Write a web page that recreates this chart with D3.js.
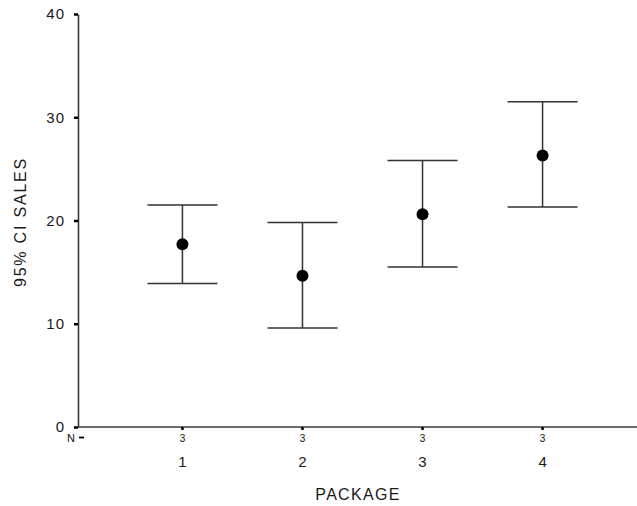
<!DOCTYPE html>
<html>
<head>
<meta charset="utf-8">
<script src="https://cdn.jsdelivr.net/npm/d3@7"></script>
<style>
  body { margin: 0; background: #fff; }
  text { font-family: "Liberation Sans", Arial, sans-serif; fill: #1a1a1a; }
</style>
</head>
<body>
<div id="chart"></div>
<script>
let width = 637;
let height = 506;

// data
let packages = ["1", "2", "3", "4"];
let counts = [3, 3, 3, 3];
let means = [17.7, 14.65, 20.6, 26.3];
let lower = [13.9, 9.6, 15.5, 21.3];
let upper = [21.5, 19.8, 25.8, 31.5];
let yTicks = [0, 10, 20, 30, 40];

let plotLeft = 78, plotTop = 14, plotBottom = 427;

let svg = d3.select("#chart").append("svg")
  .attr("width", width)
  .attr("height", height);

let y = d3.scaleLinear().domain([0, 40]).range([plotBottom, plotTop]);
let x = d3.scalePoint().domain(packages).range([plotLeft, 647]).padding(0.87);

let axisColor = "#3a3a3a";

// y axis
let yAxis = svg.append("g")
  .attr("transform", "translate(" + plotLeft + ",0)")
  .call(d3.axisLeft(y).tickValues(yTicks).tickSize(4).tickPadding(9).tickSizeOuter(0));
yAxis.select(".domain").attr("stroke", axisColor).attr("stroke-width", 1.6);
yAxis.selectAll(".tick line").attr("stroke", "#000").attr("stroke-width", 2.5);
yAxis.selectAll(".tick text")
  .style("font-size", "15px")
  .style("letter-spacing", "1px")
  .style("fill", "#1a1a1a");

// x axis line
svg.append("line")
  .attr("x1", plotLeft).attr("x2", width)
  .attr("y1", plotBottom).attr("y2", plotBottom)
  .attr("stroke", axisColor).attr("stroke-width", 1.6);

// x ticks
svg.selectAll(".xtick")
  .data(packages)
  .enter().append("line")
  .attr("class", "xtick")
  .attr("x1", function(d){ return x(d); })
  .attr("x2", function(d){ return x(d); })
  .attr("y1", plotBottom).attr("y2", plotBottom + 3)
  .attr("stroke", "#000").attr("stroke-width", 2.5);

// N= row
svg.append("text")
  .attr("x", 71).attr("y", 438)
  .attr("text-anchor", "middle")
  .attr("dominant-baseline", "central")
  .style("font-size", "11px")
  .style("fill", "#111")
  .text("N");
svg.append("line")
  .attr("x1", 79).attr("x2", 84)
  .attr("y1", 437.5).attr("y2", 437.5)
  .attr("stroke", "#000").attr("stroke-width", 1.8);

svg.selectAll(".nlab")
  .data(counts)
  .enter().append("text")
  .attr("class", "nlab")
  .attr("x", function(d, i){ return x(packages[i]); })
  .attr("y", 438)
  .attr("text-anchor", "middle")
  .attr("dominant-baseline", "central")
  .style("font-size", "10px")
  .style("fill", "#111")
  .text(function(d){ return d; });

svg.selectAll(".catlab")
  .data(packages)
  .enter().append("text")
  .attr("class", "catlab")
  .attr("x", function(d){ return x(d); })
  .attr("y", 461)
  .attr("text-anchor", "middle")
  .attr("dominant-baseline", "central")
  .style("font-size", "15px")
  .text(function(d){ return d; });

// axis titles
svg.append("text")
  .attr("x", 358).attr("y", 494)
  .attr("text-anchor", "middle")
  .attr("dominant-baseline", "central")
  .style("font-size", "16px")
  .style("letter-spacing", "1.3px")
  .text("PACKAGE");

svg.append("text")
  .attr("transform", "translate(20,222) rotate(-90)")
  .attr("text-anchor", "middle")
  .attr("dominant-baseline", "central")
  .style("font-size", "16px")
  .style("letter-spacing", "1.8px")
  .text("95% CI SALES");

// error bars
let capHalf = 35;
let bars = svg.selectAll(".bar")
  .data(packages)
  .enter().append("g")
  .attr("class", "bar")
  .attr("stroke", "#333")
  .attr("stroke-width", 1.5);

bars.append("line")
  .attr("x1", function(d){ return x(d); })
  .attr("x2", function(d){ return x(d); })
  .attr("y1", function(d, i){ return y(upper[i]); })
  .attr("y2", function(d, i){ return y(lower[i]); });
bars.append("line")
  .attr("x1", function(d){ return x(d) - capHalf; })
  .attr("x2", function(d){ return x(d) + capHalf; })
  .attr("y1", function(d, i){ return y(upper[i]); })
  .attr("y2", function(d, i){ return y(upper[i]); });
bars.append("line")
  .attr("x1", function(d){ return x(d) - capHalf; })
  .attr("x2", function(d){ return x(d) + capHalf; })
  .attr("y1", function(d, i){ return y(lower[i]); })
  .attr("y2", function(d, i){ return y(lower[i]); });

svg.selectAll(".dot")
  .data(means)
  .enter().append("circle")
  .attr("class", "dot")
  .attr("cx", function(d, i){ return x(packages[i]); })
  .attr("cy", function(d){ return y(d); })
  .attr("r", 6)
  .attr("fill", "#000");
</script>
</body>
</html>
